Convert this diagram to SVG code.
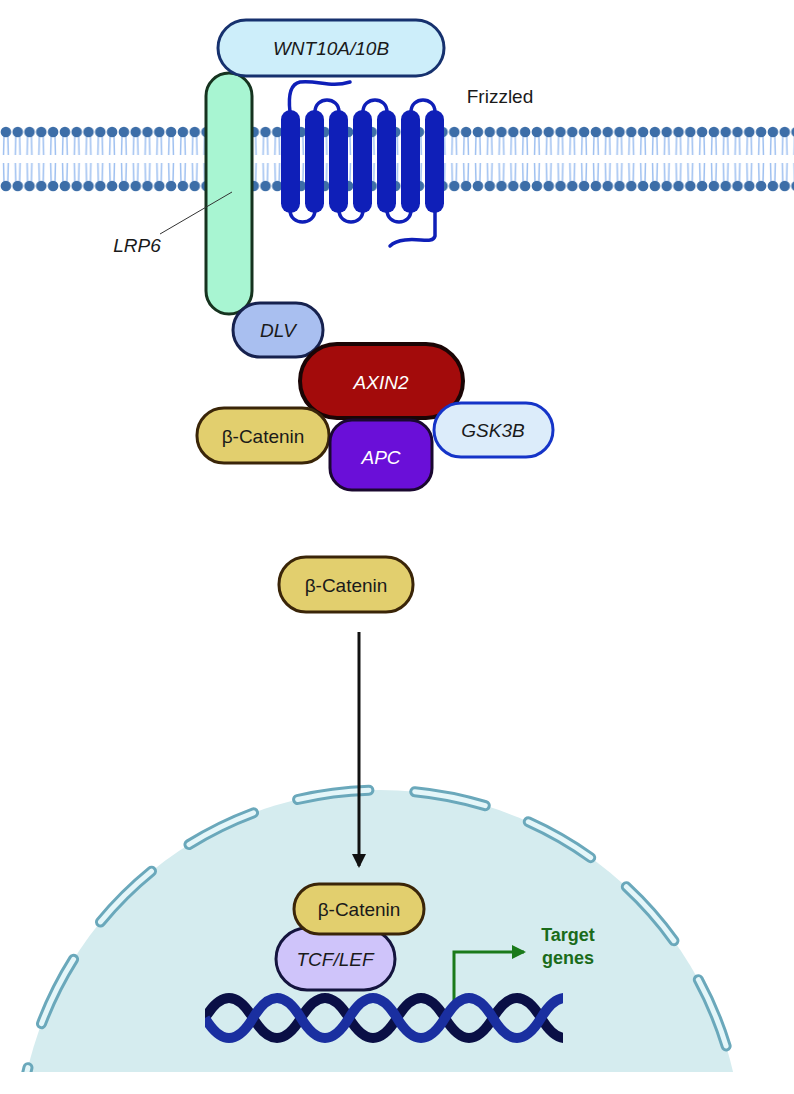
<svg xmlns="http://www.w3.org/2000/svg" width="794" height="1094" viewBox="0 0 794 1094">
<defs>
<style>
.t{font-family:"Liberation Sans",Arial,sans-serif;font-size:19px;text-anchor:middle;fill:#1a1a1a}
.i{font-style:italic}
.p{stroke-width:3}
.helix{fill:#0f1fb8;stroke:none}
.loop{fill:none;stroke:#0f1fb8;stroke-width:3.5;stroke-linecap:round}
</style>
<pattern id="lip" x="0" y="120" width="11.8" height="80" patternUnits="userSpaceOnUse">
<path d="M4,14 L3.5,35 M7.8,14 L8.3,35 M3.5,43 L4,64 M8.3,43 L7.8,64" stroke="#9dbff0" stroke-width="1.5" fill="none"/>
<circle cx="5.9" cy="12" r="5.3" fill="#3d6ea8"/>
<circle cx="5.9" cy="66" r="5.3" fill="#3d6ea8"/>
</pattern>
<marker id="ah" markerWidth="14" markerHeight="20" refX="12" refY="7" orient="auto" markerUnits="userSpaceOnUse"><path d="M0,0 L14,7 L0,14 z" fill="#111"/></marker>
<marker id="gh" markerWidth="14" markerHeight="14" refX="12" refY="7" orient="auto" markerUnits="userSpaceOnUse"><path d="M0,0 L14,7 L0,14 z" fill="#1a7a1a"/></marker>
<clipPath id="cl"><rect x="0" y="0" width="794" height="1072"/></clipPath>
<clipPath id="dc"><rect x="205" y="980" width="358" height="80"/></clipPath>
</defs>
<rect width="794" height="1094" fill="#fff"/>
<g id="membrane"><rect x="0" y="120" width="794" height="80" fill="url(#lip)"/></g>
<g id="nucleus" clip-path="url(#cl)">
<circle cx="380" cy="1152" r="362" fill="#d5ecef"/>
<circle cx="380" cy="1152" r="362" fill="none" stroke="#6aa8bb" stroke-width="11" stroke-dasharray="72 46" stroke-linecap="round" stroke-dashoffset="30"/>
<circle cx="380" cy="1152" r="362" fill="none" stroke="#e4f6f9" stroke-width="5" stroke-dasharray="72 46" stroke-linecap="round" stroke-dashoffset="30"/>
</g>
<g id="frizzled">
<path class="loop" d="M290,112 C288,95 290,84 300,82 C318,80 330,88 350,82"/>
<path class="loop" d="M315,112 C315,96 339,96 339,112 M363,112 C363,96 387,96 387,112 M411,112 C411,96 435,96 435,112"/>
<path class="loop" d="M290,210 C290,226 315,226 315,210 M339,210 C339,226 363,226 363,210 M387,210 C387,226 411,226 411,210"/>
<path class="loop" d="M435,210 L435,236 C433,244 420,238 405,240 C396,241 392,244 390,246"/>
<rect class="helix" x="281" y="110" width="19" height="103" rx="9.5"/>
<rect class="helix" x="305" y="110" width="19" height="103" rx="9.5"/>
<rect class="helix" x="329" y="110" width="19" height="103" rx="9.5"/>
<rect class="helix" x="353" y="110" width="19" height="103" rx="9.5"/>
<rect class="helix" x="377" y="110" width="19" height="103" rx="9.5"/>
<rect class="helix" x="401" y="110" width="19" height="103" rx="9.5"/>
<rect class="helix" x="425" y="110" width="19" height="103" rx="9.5"/>
<text class="t" x="500" y="103">Frizzled</text>
</g>
<g id="lrp6">
<rect x="206" y="73" width="46" height="241" rx="23" fill="#a8f5d2" stroke="#16331f" class="p"/>
<line x1="160" y1="234" x2="232" y2="192" stroke="#333" stroke-width="1"/>
<text class="t i" x="137" y="252">LRP6</text>
</g>
<g id="wnt">
<rect x="218" y="20" width="226" height="56" rx="28" fill="#cdeefa" stroke="#16316e" class="p"/>
<text class="t i" x="331" y="55">WNT10A/10B</text>
</g>
<g id="dlv">
<rect x="233" y="303" width="90" height="54" rx="27" fill="#a9bff0" stroke="#16214e" class="p"/>
<text class="t i" x="278" y="337">DLV</text>
</g>
<g id="axin2">
<rect x="300" y="344" width="163" height="74" rx="37" fill="#a30b0b" stroke="#1a0505" stroke-width="4"/>
<text class="t i" x="381" y="389" style="fill:#fff">AXIN2</text>
</g>
<g id="bcat1">
<rect x="197" y="408" width="132" height="55" rx="27" fill="#e2cf6e" stroke="#3a2508" class="p"/>
<text class="t" x="263" y="443">β-Catenin</text>
</g>
<g id="apc">
<rect x="330" y="420" width="102" height="70" rx="22" fill="#6a0fd8" stroke="#1a0830" class="p"/>
<text class="t i" x="381" y="464" style="fill:#fff">APC</text>
</g>
<g id="gsk3b">
<rect x="434" y="403" width="119" height="54" rx="27" fill="#dcecfa" stroke="#1534c8" class="p"/>
<text class="t i" x="493" y="437">GSK3B</text>
</g>
<g id="bcat2">
<rect x="279" y="557" width="134" height="55" rx="27" fill="#e2cf6e" stroke="#3a2508" class="p"/>
<text class="t" x="346" y="592">β-Catenin</text>
</g>
<g id="connectors">
<line x1="359" y1="632" x2="359" y2="866" stroke="#111" stroke-width="3" marker-end="url(#ah)"/>
<path d="M454,1002 L454,952 L524,952" fill="none" stroke="#1a7a1a" stroke-width="3" marker-end="url(#gh)"/>
</g>
<g id="dna" clip-path="url(#dc)">
<path d="M205,1018 q24,-40 48,0 t48,0 t48,0 t48,0 t48,0 t48,0 t48,0 t48,0" fill="none" stroke="#0a0f45" stroke-width="10"/>
<path d="M205,1018 q24,40 48,0 t48,0 t48,0 t48,0 t48,0 t48,0 t48,0 t48,0" fill="none" stroke="#1a2fa0" stroke-width="10"/>
</g>
<g id="tcflef">
<rect x="276" y="928" width="119" height="62" rx="31" fill="#cfc4fa" stroke="#14143e" class="p"/>
<text class="t i" x="335" y="966">TCF/LEF</text>
</g>
<g id="bcat3">
<rect x="294" y="884" width="130" height="50" rx="25" fill="#e2cf6e" stroke="#3a2508" class="p"/>
<text class="t" x="359" y="916">β-Catenin</text>
</g>
<g id="target">
<text class="t" x="568" y="941" style="fill:#1a6b1a;font-weight:bold;font-size:18px">Target</text>
<text class="t" x="568" y="964" style="fill:#1a6b1a;font-weight:bold;font-size:18px">genes</text>
</g>
</svg>
